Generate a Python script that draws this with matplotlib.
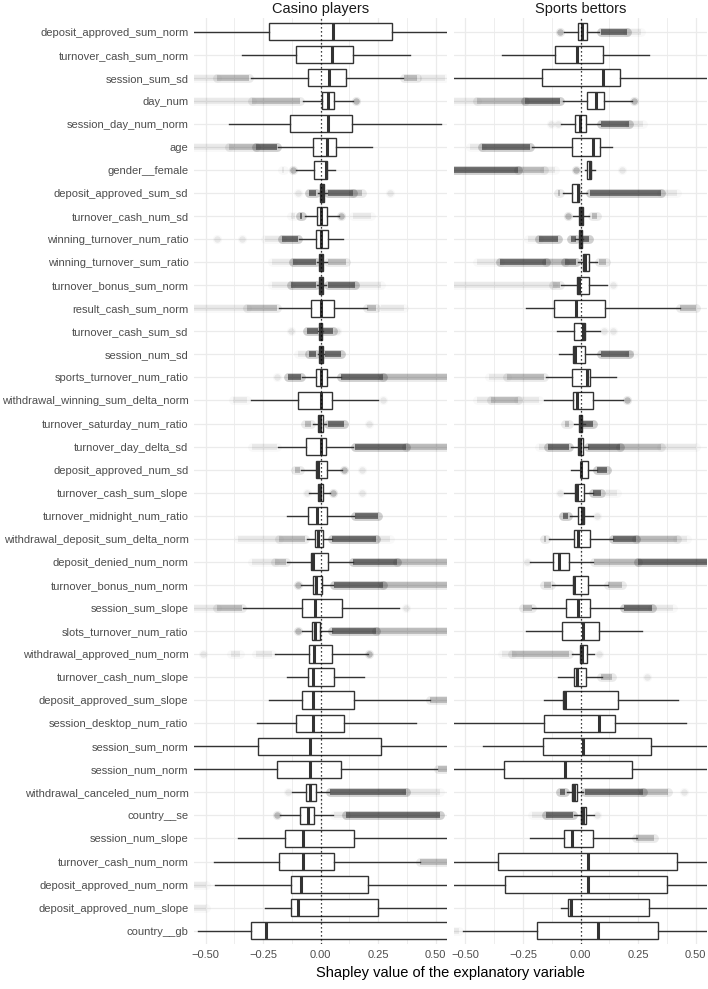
import numpy as np
import matplotlib
matplotlib.use('Agg')
import matplotlib.pyplot as plt

plt.rcParams['font.family'] = ['Liberation Sans', 'DejaVu Sans']

# explanatory variables, top to bottom
features = [
    'deposit_approved_sum_norm', 'turnover_cash_sum_norm', 'session_sum_sd', 'day_num',
    'session_day_num_norm', 'age', 'gender__female', 'deposit_approved_sum_sd',
    'turnover_cash_num_sd', 'winning_turnover_num_ratio', 'winning_turnover_sum_ratio',
    'turnover_bonus_sum_norm', 'result_cash_sum_norm', 'turnover_cash_sum_sd',
    'session_num_sd', 'sports_turnover_num_ratio', 'withdrawal_winning_sum_delta_norm',
    'turnover_saturday_num_ratio', 'turnover_day_delta_sd', 'deposit_approved_num_sd',
    'turnover_cash_sum_slope', 'turnover_midnight_num_ratio',
    'withdrawal_deposit_sum_delta_norm', 'deposit_denied_num_norm',
    'turnover_bonus_num_norm', 'session_sum_slope', 'slots_turnover_num_ratio',
    'withdrawal_approved_num_norm', 'turnover_cash_num_slope', 'deposit_approved_sum_slope',
    'session_desktop_num_ratio', 'session_sum_norm', 'session_num_norm',
    'withdrawal_canceled_num_norm', 'country__se', 'session_num_slope',
    'turnover_cash_num_norm', 'deposit_approved_num_norm', 'deposit_approved_num_slope',
    'country__gb',
]

# casino players: whisker low, q1, median, q3, whisker high
casino_lo = [-0.70, -0.343, -0.303, -0.078, -0.399, -0.184, -0.107, -0.010, -0.068, -0.094,
             -0.017, -0.017, -0.180, -0.010, -0.010, -0.080, -0.304, -0.034, -0.186, -0.086,
             -0.049, -0.145, -0.061, -0.145, -0.086, -0.336, -0.083, -0.197, -0.145, -0.223,
             -0.275, -0.70, -0.70, -0.123, -0.177, -0.358, -0.464, -0.457, -0.242, -0.532]
casino_q1 = [-0.223, -0.109, -0.057, 0.004, -0.135, -0.035, -0.029, -0.003, -0.017, -0.022,
             -0.007, -0.007, -0.041, -0.006, -0.006, -0.022, -0.097, -0.010, -0.062, -0.020,
             -0.013, -0.054, -0.025, -0.043, -0.032, -0.083, -0.036, -0.052, -0.057, -0.080,
             -0.107, -0.272, -0.188, -0.062, -0.091, -0.155, -0.180, -0.130, -0.128, -0.303]
casino_med = [0.055, 0.051, 0.038, 0.033, 0.033, 0.029, 0.023, 0.005, 0.001, 0.001,
              0.002, 0.002, 0.001, 0.001, 0.001, 0.001, 0.000, -0.002, 0.001, -0.010,
              -0.003, -0.016, -0.010, -0.032, -0.020, -0.023, -0.025, -0.029, -0.032, -0.035,
              -0.035, -0.045, -0.045, -0.046, -0.055, -0.075, -0.078, -0.086, -0.100, -0.238]
casino_q3 = [0.309, 0.142, 0.112, 0.059, 0.138, 0.067, 0.026, 0.013, 0.026, 0.032,
             0.010, 0.010, 0.058, 0.008, 0.010, 0.026, 0.051, 0.009, 0.025, 0.026,
             0.012, 0.029, 0.009, 0.032, 0.007, 0.091, -0.003, 0.051, 0.058, 0.143,
             0.103, 0.261, 0.090, -0.019, -0.030, 0.143, 0.059, 0.204, 0.251, 0.70]
casino_hi = [0.70, 0.388, 0.359, 0.142, 0.522, 0.222, 0.062, 0.026, 0.081, 0.099,
             0.028, 0.025, 0.200, 0.012, 0.016, 0.087, 0.251, 0.023, 0.142, 0.091,
             0.041, 0.145, 0.048, 0.139, 0.055, 0.342, 0.048, 0.207, 0.190, 0.475,
             0.414, 0.70, 0.504, 0.038, 0.055, 0.70, 0.432, 0.70, 0.70, 0.75]

# sports bettors
sports_lo = [-0.072, -0.343, -0.70, -0.078, -0.087, -0.209, 0.020, -0.075, -0.032, -0.025,
             -0.012, -0.087, -0.238, -0.101, -0.093, -0.151, -0.158, -0.030, -0.040, -0.043,
             -0.072, -0.046, -0.136, -0.220, -0.126, -0.213, -0.236, -0.039, -0.100, -0.158,
             -0.70, -0.423, -0.70, -0.060, -0.030, -0.220, -0.70, -0.70, -0.086, -0.510]
sports_q1 = [-0.012, -0.112, -0.168, 0.028, -0.023, -0.036, 0.029, -0.036, -0.006, -0.006,
             0.012, -0.014, -0.114, -0.030, -0.033, -0.036, -0.035, -0.009, -0.013, 0.000,
             -0.023, -0.013, -0.030, -0.122, -0.032, -0.062, -0.083, -0.003, -0.028, -0.077,
             -0.158, -0.165, -0.332, -0.039, 0.000, -0.071, -0.357, -0.330, -0.057, -0.191]
sports_med = [0.007, -0.016, 0.096, 0.067, -0.003, 0.052, 0.040, -0.010, 0.003, 0.001,
              0.019, -0.009, -0.022, 0.012, -0.023, 0.028, -0.017, -0.003, -0.002, 0.003,
              -0.017, 0.004, -0.013, -0.094, -0.028, -0.010, 0.012, 0.004, -0.017, -0.070,
              0.080, 0.009, -0.068, -0.030, 0.010, -0.036, 0.033, 0.030, -0.043, 0.077]
sports_q3 = [0.029, 0.099, 0.172, 0.103, 0.022, 0.086, 0.046, -0.006, 0.012, 0.007,
             0.038, 0.038, 0.107, 0.020, 0.017, 0.042, 0.054, 0.006, 0.010, 0.032,
             0.016, 0.014, 0.041, -0.049, 0.030, 0.041, 0.080, 0.026, 0.025, 0.164,
             0.151, 0.306, 0.222, -0.016, 0.023, 0.055, 0.420, 0.377, 0.299, 0.335]
sports_hi = [0.081, 0.297, 0.70, 0.222, 0.084, 0.138, 0.062, 0.026, 0.038, 0.012,
             0.070, 0.113, 0.432, 0.084, 0.084, 0.152, 0.183, 0.020, 0.033, 0.070,
             0.052, 0.052, 0.142, 0.055, 0.120, 0.186, 0.265, 0.058, 0.091, 0.422,
             0.458, 0.70, 0.70, 0.010, 0.058, 0.243, 0.70, 0.70, 0.70, 0.70]

# outlier clouds: (row, from, to, density f=faint m=medium d=dense)
casino_outliers = [
    (3, -0.55, -0.45, 'f'), (3, -0.45, -0.31, 'm'), (3, 0.36, 0.42, 'm'), (3, 0.43, 0.54, 'f'),
    (4, -0.55, -0.30, 'f'), (4, -0.30, -0.09, 'm'), (4, 0.152, 0.152, 'm'),
    (6, -0.55, -0.40, 'f'), (6, -0.40, -0.28, 'm'), (6, -0.28, -0.19, 'd'),
    (7, -0.17, -0.16, 'f'), (7, -0.12, -0.12, 'm'),
    (8, -0.10, -0.10, 'f'), (8, -0.05, -0.02, 'd'), (8, 0.03, 0.14, 'd'), (8, 0.14, 0.18, 'm'),
    (8, 0.30, 0.30, 'f'),
    (9, -0.13, -0.11, 'f'), (9, -0.09, -0.08, 'd'), (9, 0.09, 0.09, 'm'), (9, 0.14, 0.22, 'f'),
    (10, -0.45, -0.45, 'f'), (10, -0.34, -0.34, 'f'), (10, -0.24, -0.17, 'f'),
    (10, -0.17, -0.10, 'd'),
    (11, -0.21, -0.12, 'f'), (11, -0.12, -0.02, 'd'), (11, 0.03, 0.11, 'm'),
    (12, -0.21, -0.13, 'f'), (12, -0.13, -0.02, 'd'), (12, 0.03, 0.15, 'd'), (12, 0.15, 0.26, 'f'),
    (13, -0.55, -0.32, 'f'), (13, -0.32, -0.19, 'm'), (13, 0.20, 0.24, 'm'), (13, 0.26, 0.36, 'f'),
    (14, -0.13, -0.13, 'f'), (14, -0.06, -0.01, 'd'), (14, 0.01, 0.055, 'd'), (14, 0.07, 0.07, 'f'),
    (15, -0.10, -0.06, 'f'), (15, -0.05, -0.02, 'd'), (15, 0.02, 0.09, 'd'),
    (16, -0.19, -0.19, 'f'), (16, -0.14, -0.085, 'd'), (16, 0.09, 0.27, 'd'), (16, 0.27, 0.55, 'm'),
    (17, -0.38, -0.32, 'f'), (17, 0.27, 0.27, 'f'),
    (18, -0.07, -0.04, 'm'), (18, 0.03, 0.10, 'd'), (18, 0.21, 0.21, 'f'),
    (19, -0.30, -0.19, 'f'), (19, 0.15, 0.37, 'd'), (19, 0.37, 0.55, 'm'),
    (20, -0.11, -0.09, 'm'), (20, 0.10, 0.10, 'm'), (20, 0.18, 0.18, 'f'),
    (21, -0.06, -0.06, 'f'), (21, 0.055, 0.055, 'm'), (21, 0.18, 0.18, 'f'),
    (22, 0.15, 0.25, 'd'),
    (23, -0.36, -0.18, 'f'), (23, -0.18, -0.07, 'm'), (23, 0.05, 0.24, 'd'), (23, 0.24, 0.30, 'f'),
    (24, -0.30, -0.20, 'f'), (24, -0.20, -0.15, 'm'), (24, 0.14, 0.33, 'd'), (24, 0.33, 0.55, 'm'),
    (25, -0.10, -0.10, 'm'), (25, 0.06, 0.27, 'd'), (25, 0.27, 0.55, 'm'),
    (26, -0.55, -0.45, 'f'), (26, -0.45, -0.34, 'm'), (26, 0.37, 0.37, 'f'),
    (27, -0.10, -0.10, 'm'), (27, 0.05, 0.24, 'd'), (27, 0.24, 0.55, 'm'),
    (28, -0.51, -0.51, 'f'), (28, -0.39, -0.35, 'f'), (28, -0.28, -0.21, 'f'), (28, 0.21, 0.21, 'm'),
    (30, 0.475, 0.55, 'm'),
    (33, 0.51, 0.55, 'm'),
    (34, -0.14, -0.14, 'f'), (34, 0.04, 0.37, 'd'), (34, 0.37, 0.52, 'f'),
    (35, -0.19, -0.19, 'm'), (35, 0.06, 0.11, 'f'), (35, 0.11, 0.52, 'd'),
    (37, 0.43, 0.55, 'm'),
    (38, -0.55, -0.50, 'f'), (39, -0.55, -0.50, 'f'),
]

sports_outliers = [
    (1, -0.09, -0.09, 'm'), (1, 0.09, 0.20, 'd'), (1, 0.20, 0.26, 'f'),
    (4, -0.55, -0.45, 'f'), (4, -0.45, -0.24, 'm'), (4, -0.24, -0.09, 'd'), (4, 0.23, 0.23, 'm'),
    (5, -0.13, -0.13, 'f'), (5, -0.097, -0.097, 'f'), (5, 0.09, 0.21, 'd'), (5, 0.21, 0.27, 'f'),
    (6, -0.48, -0.43, 'f'), (6, -0.43, -0.22, 'd'),
    (7, -0.55, -0.27, 'd'), (7, -0.27, -0.16, 'm'), (7, -0.16, -0.11, 'f'), (7, -0.02, -0.02, 'm'),
    (7, 0.18, 0.18, 'f'),
    (8, -0.10, -0.09, 'm'), (8, 0.04, 0.35, 'd'), (8, 0.35, 0.42, 'f'),
    (9, -0.055, -0.055, 'm'), (9, 0.05, 0.07, 'm'),
    (10, -0.23, -0.18, 'f'), (10, -0.18, -0.10, 'd'), (10, -0.04, -0.02, 'd'), (10, 0.012, 0.035, 'd'),
    (11, -0.45, -0.35, 'f'), (11, -0.35, -0.15, 'd'), (11, -0.15, -0.07, 'm'), (11, -0.07, -0.02, 'd'),
    (11, 0.08, 0.11, 'm'),
    (12, -0.55, -0.12, 'f'), (12, -0.12, -0.09, 'm'), (12, 0.14, 0.14, 'f'),
    (13, 0.43, 0.50, 'm'),
    (14, 0.10, 0.10, 'f'), (14, 0.14, 0.14, 'f'),
    (15, 0.09, 0.21, 'd'), (15, 0.21, 0.23, 'f'),
    (16, -0.40, -0.32, 'f'), (16, -0.32, -0.16, 'm'),
    (17, -0.45, -0.39, 'f'), (17, -0.39, -0.27, 'm'), (17, -0.27, -0.18, 'f'), (17, 0.20, 0.20, 'm'),
    (18, -0.07, -0.05, 'm'), (18, 0.01, 0.055, 'd'),
    (19, -0.18, -0.14, 'f'), (19, -0.14, -0.05, 'd'), (19, 0.03, 0.17, 'd'), (19, 0.17, 0.35, 'm'),
    (19, 0.35, 0.50, 'f'),
    (20, 0.07, 0.115, 'd'),
    (21, -0.09, -0.09, 'f'), (21, 0.055, 0.09, 'd'), (21, 0.11, 0.16, 'f'),
    (22, -0.075, -0.055, 'd'), (22, 0.07, 0.07, 'f'),
    (23, -0.16, -0.15, 'm'), (23, 0.14, 0.24, 'd'), (23, 0.24, 0.42, 'm'), (23, 0.42, 0.46, 'f'),
    (24, -0.235, -0.235, 'f'), (24, 0.06, 0.25, 'm'), (24, 0.25, 0.55, 'd'),
    (25, -0.16, -0.13, 'm'), (25, 0.12, 0.18, 'm'),
    (26, -0.25, -0.21, 'm'), (26, 0.19, 0.31, 'd'), (26, 0.31, 0.40, 'f'),
    (28, -0.34, -0.30, 'f'), (28, -0.30, -0.05, 'm'), (28, 0.08, 0.08, 'f'),
    (29, 0.09, 0.135, 'm'), (29, 0.29, 0.29, 'f'),
    (34, -0.09, -0.07, 'd'), (34, 0.02, 0.27, 'd'), (34, 0.27, 0.38, 'm'), (34, 0.45, 0.45, 'f'),
    (35, -0.21, -0.15, 'f'), (35, -0.15, -0.035, 'd'), (35, 0.07, 0.07, 'f'),
    (36, 0.24, 0.32, 'm'),
    (40, -0.55, -0.53, 'f'),
]

panel_titles = ['Casino players', 'Sports bettors']
x_ticks = [-0.50, -0.25, 0.00, 0.25, 0.50]

alphas = {'f': 0.08, 'm': 0.26, 'd': 0.62}
box_col = '#333333'
grid_col = '#EBEBEB'


def draw_panel(ax, lo, q1, med, q3, hi, outliers):
    n = len(features)
    ypos = np.arange(n)
    # outlier clouds: a soft halo plus a core, so the ends look blurred
    for row, a, b, dens in outliers:
        y = row - 1
        al = alphas[dens]
        if a == b:
            ax.scatter([a], [y], s=44, color='black', alpha=al * 0.3, lw=0, zorder=1)
            ax.scatter([a], [y], s=22, color='black', alpha=al * 0.8, lw=0, zorder=1)
        else:
            ax.plot([a, b], [y, y], color='black', alpha=al * 0.3, lw=6.4,
                    solid_capstyle='round', zorder=1)
            ax.plot([a, b], [y, y], color='black', alpha=al * 0.8, lw=4.2,
                    solid_capstyle='butt', zorder=1)
    stats = []
    for i in range(n):
        stats.append(dict(whislo=lo[i], q1=q1[i], med=med[i], q3=q3[i], whishi=hi[i]))
    ax.bxp(stats, positions=ypos, widths=0.75, orientation='horizontal',
           showfliers=False, showcaps=False, patch_artist=True,
           boxprops=dict(facecolor='white', edgecolor=box_col, linewidth=1.0),
           whiskerprops=dict(color=box_col, linewidth=1.0),
           medianprops=dict(color=box_col, linewidth=2.2), zorder=2)
    ax.axvline(0, color='black', ls=(0, (1, 2.2)), lw=0.9, zorder=3)

    ax.set_xlim(-0.55, 0.55)
    ax.set_ylim(n - 0.4, -0.6)
    ax.set_xticks(x_ticks)
    ax.set_xticks([-0.375, -0.125, 0.125, 0.375], minor=True)
    ax.set_xticklabels([('%.2f' % v).replace('-', '\u2212') for v in x_ticks])
    ax.set_yticks(ypos)
    ax.grid(True, which='major', color=grid_col, lw=0.9, zorder=0)
    ax.grid(True, which='minor', axis='x', color=grid_col, lw=0.6, zorder=0)
    ax.set_axisbelow(True)
    for s in ax.spines.values():
        s.set_visible(False)
    ax.tick_params(which='both', length=0, colors='#4D4D4D', labelsize=8, pad=4)


fig = plt.figure(figsize=(7.08, 9.89), dpi=100)
ax1 = fig.add_axes([0.274, 0.045, 0.3578, 0.937])
ax2 = fig.add_axes([0.6412, 0.045, 0.3578, 0.937])

draw_panel(ax1, casino_lo, casino_q1, casino_med, casino_q3, casino_hi, casino_outliers)
draw_panel(ax2, sports_lo, sports_q1, sports_med, sports_q3, sports_hi, sports_outliers)

ax1.set_yticklabels(features)
ax2.set_yticklabels([])

for ax, t in zip([ax1, ax2], panel_titles):
    bb = ax.get_position()
    fig.text((bb.x0 + bb.x1) / 2, 0.9905, t, ha='center', va='center',
             fontsize=10.5, color='#1A1A1A')

fig.text(0.636, 0.016, 'Shapley value of the explanatory variable', ha='center',
         va='center', fontsize=10.5, color='black')

fig.savefig('out.png', dpi=100)
